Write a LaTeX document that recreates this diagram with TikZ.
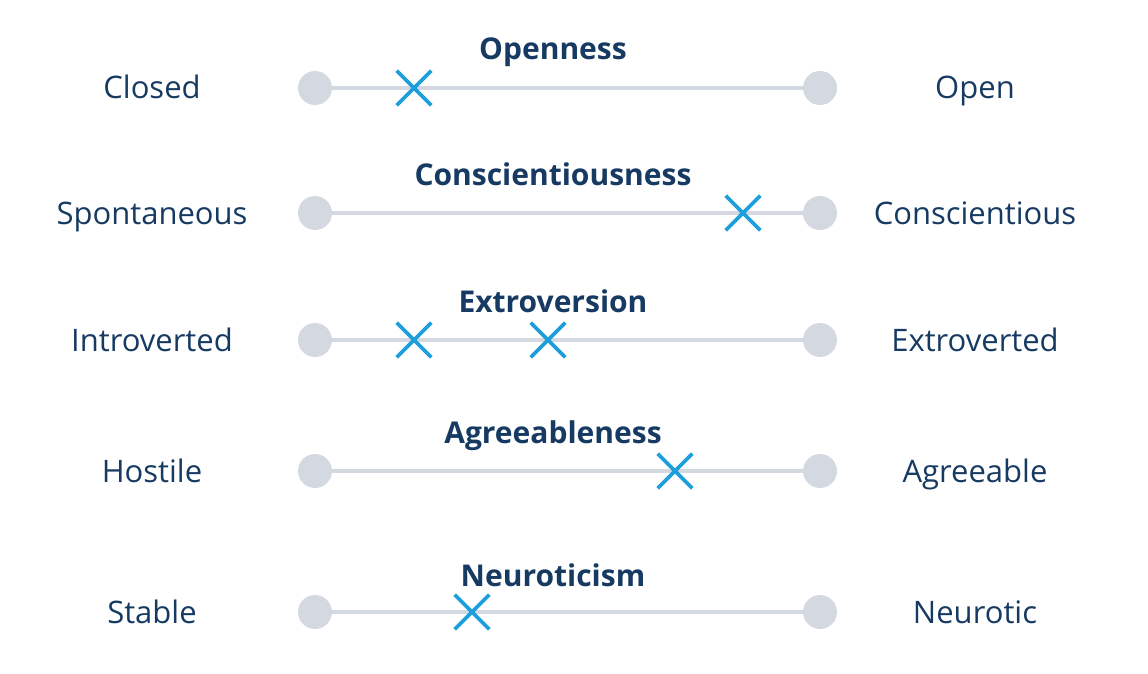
\documentclass[tikz,border=0pt]{standalone}
\usepackage{fontspec}
\setmainfont{Open Sans}
\usepackage{tikz}
\usetikzlibrary{shapes.misc, positioning}
\definecolor{navy}{RGB}{22,58,98}
\definecolor{barblue}{RGB}{30,158,218}
\definecolor{knobgray}{RGB}{212,216,224}

\begin{document}
\begin{tikzpicture}[
  x=1pt, y=-1pt,
  knob/.style   = {circle, fill=knobgray, minimum size=34pt, inner sep=0pt},
  track/.style  = {draw=knobgray, line width=4pt},
  xmark/.style  = {cross out, draw=barblue, line width=3.6pt, minimum size=31pt,
                   inner sep=0pt},
  pole/.style   = {font=\fontsize{31}{36}\selectfont, text=navy,
                   text height=22pt, text depth=0pt},
  trait/.style  = {font=\fontsize{30}{35}\selectfont\bfseries, text=navy,
                   text height=21.5pt, text depth=0pt},
]
\useasboundingbox (0,0) rectangle (1148,674);

%% --- Openness ---
\node[knob] (ol) at (315,88) {};
\node[knob] (or) at (820,88) {};
\draw[track] (ol) -- (or);
\node[trait] (ot) at (553,49) {Openness};
\node[pole]  (olt) at (152,88) {Closed};
\node[pole]  (ort) at (975,88) {Open};
\node[xmark] (ox) at (414,88) {};

%% --- Conscientiousness ---
\node[knob] (cl) at (315,213) {};
\node[knob] (cr) at (820,213) {};
\draw[track] (cl) -- (cr);
\node[trait] (ct) at (553,175) {Conscientiousness};
\node[pole]  (clt) at (152,213) {Spontaneous};
\node[pole]  (crt) at (975,213) {Conscientious};
\node[xmark] (cx) at (743,213) {};

%% --- Extroversion ---
\node[knob] (el) at (315,340) {};
\node[knob] (er) at (820,340) {};
\draw[track] (el) -- (er);
\node[trait] (et) at (553,302) {Extroversion};
\node[pole]  (elt) at (152,340) {Introverted};
\node[pole]  (ert) at (975,340) {Extroverted};
\node[xmark] (ex1) at (414,340) {};
\node[xmark] (ex2) at (548,340) {};

%% --- Agreeableness ---
\node[knob] (al) at (315,471) {};
\node[knob] (ar) at (820,471) {};
\draw[track] (al) -- (ar);
\node[trait] (at) at (553,433) {Agreeableness};
\node[pole]  (alt) at (152,471) {Hostile};
\node[pole]  (art) at (975,471) {Agreeable};
\node[xmark] (ax) at (675,471) {};

%% --- Neuroticism ---
\node[knob] (nl) at (315,612) {};
\node[knob] (nr) at (820,612) {};
\draw[track] (nl) -- (nr);
\node[trait] (nt) at (553,576) {Neuroticism};
\node[pole]  (nlt) at (152,612) {Stable};
\node[pole]  (nrt) at (975,612) {Neurotic};
\node[xmark] (nx) at (472,612) {};

\end{tikzpicture}
\end{document}
